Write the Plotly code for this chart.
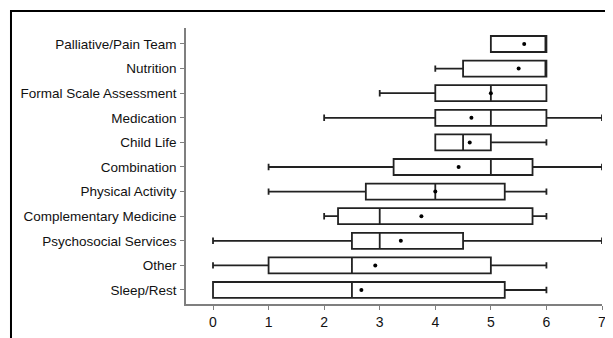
import plotly.graph_objects as go

categories = ["Sleep/Rest", "Other", "Psychosocial Services", "Complementary Medicine",
              "Physical Activity", "Combination", "Child Life", "Medication",
              "Formal Scale Assessment", "Nutrition", "Palliative/Pain Team"]
lower = [0, 0, 0, 2, 1, 1, 4, 2, 3, 4, 5]
q1 =    [0, 1, 2.5, 2.25, 2.75, 3.25, 4, 4, 4, 4.5, 5]
median = [2.5, 2.5, 3, 3, 4, 5, 4.5, 5, 5, 6, 6]
q3 =    [5.25, 5, 4.5, 5.75, 5.25, 5.75, 5, 6, 6, 6, 6]
upper = [6, 6, 7, 6, 6, 7, 6, 7, 6, 6, 6]
means = [2.67, 2.92, 3.38, 3.75, 4.0, 4.42, 4.62, 4.65, 5.0, 5.5, 5.6]
x_ticks = [0, 1, 2, 3, 4, 5, 6, 7]

fig = go.Figure()
fig.add_trace(go.Box(
    y=categories, q1=q1, median=median, q3=q3,
    lowerfence=lower, upperfence=upper,
    orientation="h", boxpoints=False,
    fillcolor="white", line=dict(color="#222222", width=1.8),
    width=0.65, whiskerwidth=0.4, showlegend=False, hoverinfo="skip",
))
fig.add_trace(go.Scatter(
    x=means, y=categories, mode="markers",
    marker=dict(color="black", size=4), showlegend=False, hoverinfo="skip",
))

fig.update_layout(
    width=605, height=330,
    margin=dict(l=178, r=11, t=20, b=34, autoexpand=False),
    paper_bgcolor="white", plot_bgcolor="white",
    font=dict(family="Liberation Sans, Arial, sans-serif", size=13.5, color="#111111"),
    xaxis=dict(range=[-0.486, 7.0], tickvals=x_ticks, showgrid=False, zeroline=False,
               showline=True, linecolor="#7f7f7f", linewidth=1.5,
               ticks="outside", ticklen=4, tickcolor="#7f7f7f",
               tickfont=dict(size=14)),
    yaxis=dict(type="category", categoryorder="array", categoryarray=categories,
               range=[-0.57, 10.65], showgrid=False, zeroline=False,
               showline=True, linecolor="#7f7f7f", linewidth=1.5,
               ticks="outside", ticklen=4, tickcolor="#7f7f7f", ticklabelstandoff=1),
    shapes=[dict(type="rect", xref="paper", yref="paper",
                 x0=-0.4207, x1=1.3, y0=-0.5, y1=1.0616,
                 line=dict(color="black", width=2), fillcolor="rgba(0,0,0,0)")],
)

fig.write_html("out.html")
